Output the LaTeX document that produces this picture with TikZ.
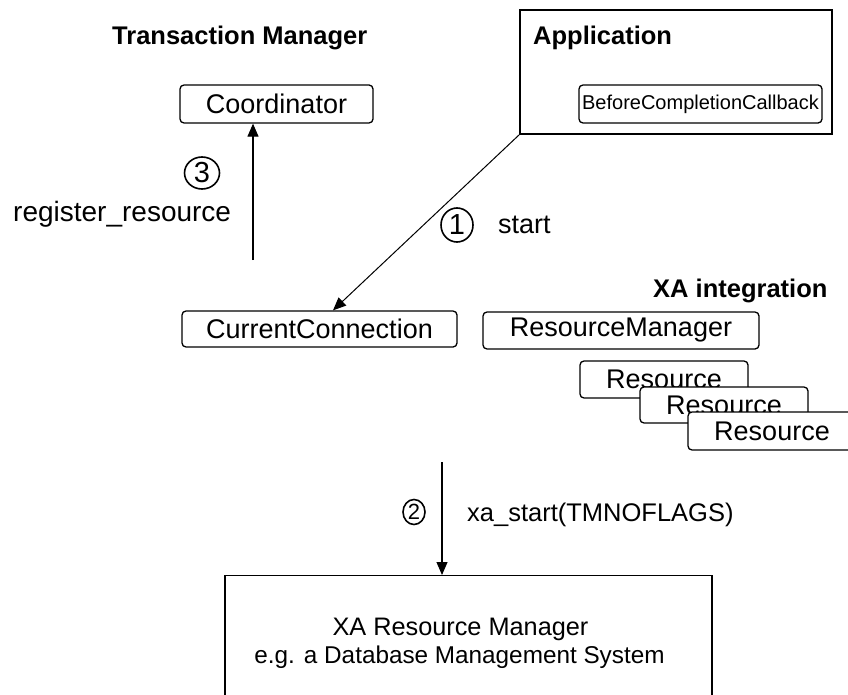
\documentclass[tikz,border=0pt]{standalone}
\usepackage{fontspec}
\setmainfont{Liberation Sans}
\usetikzlibrary{arrows.meta,shapes.geometric}
\tikzset{
  rbox/.style={draw, line width=1.3pt, rounded corners=4pt, fill=white, inner sep=0pt, font=\fontsize{27}{32}\selectfont},
  title/.style={font=\fontsize{25.5}{30}\selectfont\bfseries, inner sep=0pt},
  lbl/.style={font=\fontsize{27}{32}\selectfont, inner sep=0pt},
  num/.style={draw, ellipse, line width=1.6pt, inner sep=0pt},
  conn/.style={line width=1.1pt, -{Triangle[length=13pt,width=11pt]}},
}
\begin{document}
\begin{tikzpicture}[x=1pt,y=-1pt]
\clip (0,0) rectangle (848,695);
\useasboundingbox (0,0) rectangle (848,695);
\fill[white] (0,0) rectangle (848,695);

% titles
\node[title, anchor=base west] (tmt) at (112,45) {Transaction Manager};
\node[draw, line width=1.3pt, minimum width=312pt, minimum height=124pt, inner sep=0pt] (app) at (676,72) {};
\node[title, anchor=base west] (appt) at (533,45) {Application};
\node[rbox, minimum width=243pt, minimum height=38pt, font=\fontsize{20}{24}\selectfont] (bcc) at (700.5,104) {BeforeCompletionCallback};

\node[rbox, minimum width=193pt, minimum height=38pt] (coord) at (276.5,104) {Coordinator};

\node[rbox, minimum width=275pt, minimum height=36pt] (cc) at (319.5,329) {CurrentConnection};
\node[title, anchor=base west] (xai) at (653,297) {XA integration};
\node[rbox, minimum width=276pt, minimum height=37pt] (rm) at (621,330.5) {ResourceManager};
\node[rbox, minimum width=168pt, minimum height=37pt] (r1) at (664,379.5) {Resource};
\node[rbox, minimum width=168pt, minimum height=36pt] (r2) at (724,405) {Resource};
\node[rbox, minimum width=168pt, minimum height=38pt] (r3) at (772,431) {Resource};

% bottom box
\node[draw, line width=1.3pt, minimum width=487pt, minimum height=150pt, inner sep=0pt, anchor=north] (xarm) at (468.5,575) {};
\node[lbl, anchor=base, font=\fontsize{25.3}{30}\selectfont] (xarm1) at (460.5,635) {XA Resource Manager};
\node[lbl, anchor=base, font=\fontsize{24.3}{30}\selectfont] (xarm2) at (459.5,663) {e.g. a Database Management System};

% arrow 3
\coordinate (c3) at (253,260);
\draw[conn] (c3) -- ([xshift=-23.5pt]coord.south);
\node[num, minimum width=35pt, minimum height=32pt, font=\fontsize{29}{30}\selectfont] (n3) at (202,173) {3};
\node[lbl, anchor=base west, font=\fontsize{28}{32}\selectfont] (reg) at (13,221) {register\_resource};

% arrow 1
\draw[conn, line width=1pt] (app.south west) -- ([xshift=13.5pt]cc.north);
\node[num, minimum width=32pt, minimum height=34pt, font=\fontsize{29}{30}\selectfont] (n1) at (457,225) {1};
\node[lbl, anchor=base west] (start) at (498,233) {start};

% arrow 2
\coordinate (c2) at (442,462);
\draw[conn] (c2) -- ([xshift=-26.5pt]xarm.north);
\node[num, minimum width=22pt, minimum height=25pt, font=\fontsize{22}{24}\selectfont] (n2) at (414,512) {2};
\node[lbl, anchor=base west, font=\fontsize{25.5}{30}\selectfont] (xas) at (467,521) {xa\_start(TMNOFLAGS)};
\end{tikzpicture}
\end{document}
